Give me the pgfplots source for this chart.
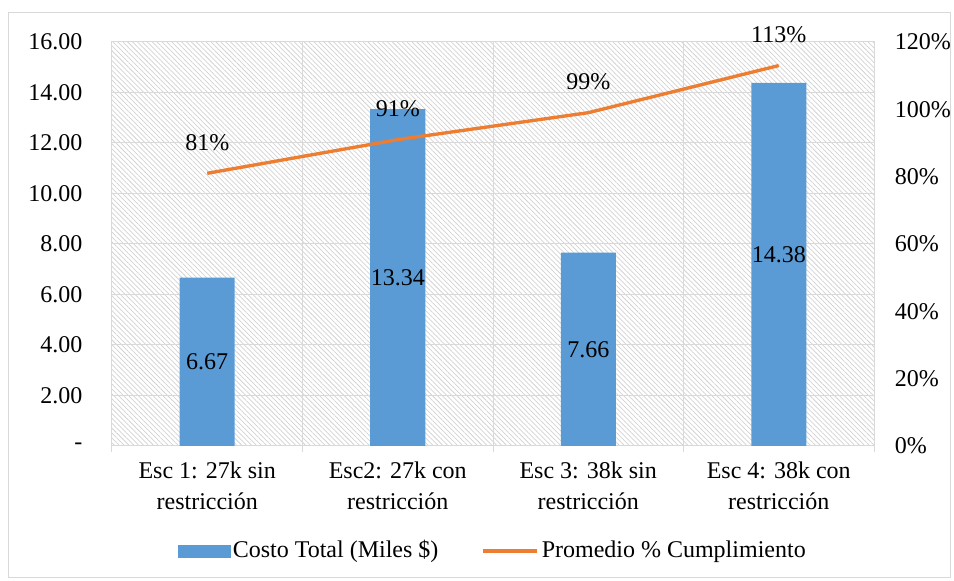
\documentclass[border=0pt]{standalone}
\usepackage{fontspec}
\setmainfont{Liberation Serif}
\usepackage{pgfplots}
\pgfplotsset{compat=1.18}
\usetikzlibrary{patterns.meta}

\definecolor{barblue}{HTML}{5B9BD5}
\definecolor{lineorange}{HTML}{ED7D31}
\definecolor{gridgray}{HTML}{D9D9D9}
\definecolor{hatchgray}{HTML}{D2D2D2}

\newcommand{\chartfont}{\fontsize{18}{23}\selectfont}

\pgfplotsset{
  /pgf/number format/assume math mode=true,
  common/.style={
    at={(84pt,101.25pt)}, anchor=south west,
    scale only axis, width=571.5pt, height=303pt,
    xmin=0.5, xmax=4.5,
    tick label style={font=\chartfont, text=black},
  },
}

\begin{document}
\begin{tikzpicture}
\chartfont
\path[use as bounding box] (0,0) rectangle (715.5pt,435.75pt);
\draw[gridgray, line width=0.75pt] (6pt,2.25pt) rectangle (712.5pt,426pt);

% Costo total por escenario (barras, eje izquierdo)
\begin{axis}[
  common,
  ymin=0, ymax=16,
  axis background/.style={pattern={Lines[angle=-45,distance=2.6pt,line width=0.55pt]}, pattern color=hatchgray},
  axis line style={gridgray, line width=0.75pt},
  xtick={1,2,3,4},
  xticklabels={{Esc 1: 27k sin\\restricción},{Esc2: 27k con\\restricción},{Esc 3: 38k sin\\restricción},{Esc 4: 38k con\\restricción}},
  xticklabel style={align=center, yshift=-6pt},
  minor xtick={0.5,1.5,2.5,3.5,4.5},
  xminorgrids=true,
  minor grid style={gridgray, line width=0.75pt},
  minor tick style={gridgray, line width=0.75pt},
  major tick length=0pt, minor tick length=4.5pt,
  tick align=outside,
  xtick pos=bottom, ytick pos=left,
  ytick={0,2,...,16},
  yticklabels={-,2.00,4.00,6.00,8.00,10.00,12.00,14.00,16.00},
  ymajorgrids=true,
  major grid style={gridgray, line width=0.75pt},
  yticklabel style={xshift=-16pt},
  ybar, bar width=41.25pt,
  nodes near coords={\pgfmathprintnumber[fixed,precision=2,zerofill]{\pgfplotspointmeta}},
  point meta=y,
  visualization depends on={rawy \as \rawy},
  visualization depends on={rawx \as \rawx},
  % value labels sit at the middle of each bar (the last one a little higher)
  every node near coord/.append style={anchor=center,
    yshift={-\rawy*9.46875pt + (\rawx==4)*7.5pt}, font=\chartfont, text=black},
]
\addplot[fill=barblue, draw=none] coordinates {(1,6.67) (2,13.34) (3,7.66) (4,14.38)};
\end{axis}

% Promedio de cumplimiento (línea, eje derecho)
\begin{axis}[
  common,
  ymin=0, ymax=120,
  hide x axis,
  axis y line*=right,
  y axis line style={draw=none},
  ytick={0,20,...,120},
  yticklabel={\pgfmathprintnumber{\tick}\%},
  major tick length=0pt,
  yticklabel style={xshift=9.5pt},
  legend columns=2,
  legend style={at={(0.5,-0.26)}, anchor=center, draw=none, fill=none,
    font=\chartfont,
    /tikz/every even column/.append style={column sep=30pt},
    nodes={inner sep=2pt}},
]
\addlegendimage{legend image code/.code={\fill[barblue] (0pt,-4.5pt) rectangle (39pt,4.5pt);}}
\addlegendentry{Costo Total (Miles \$)}
\addplot[lineorange, line width=2.5pt,
  legend image code/.code={\draw[lineorange, line width=2.5pt] (0pt,0pt) -- (41pt,0pt);},
  nodes near coords={\pgfmathprintnumber{\pgfplotspointmeta}\%},
  point meta=y,
  every node near coord/.append style={anchor=center, yshift=23pt, font=\chartfont, text=black},
] coordinates {(1,81) (2,91) (3,99) (4,113)};
\addlegendentry{Promedio \% Cumplimiento}
\end{axis}
\end{tikzpicture}
\end{document}
